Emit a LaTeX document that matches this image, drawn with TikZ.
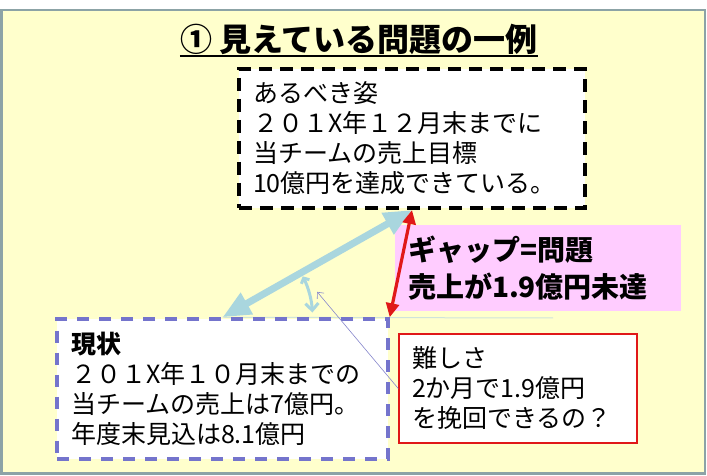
\documentclass[tikz,border=0pt]{standalone}
\usepackage{fontspec}
\setmainfont{Noto Sans CJK JP}
\usepackage{tikz}
\usetikzlibrary{arrows.meta,positioning,backgrounds,calc}

\definecolor{panelfill}{HTML}{FFFFCC}
\definecolor{panelline}{HTML}{8CA3A6}
\definecolor{nowblue}{HTML}{7474CC}
\definecolor{gapblue}{HTML}{A9D6DE}
\definecolor{gappink}{HTML}{FFCCFF}
\definecolor{hardred}{HTML}{E01818}
\definecolor{pointerblue}{HTML}{8686CC}
\definecolor{baseblue}{HTML}{CFE3DC}

\begin{document}
\begin{tikzpicture}[x=1pt,y=1pt,
  textbox/.style={fill=white, align=left, inner xsep=14pt, inner ysep=0pt,
    font=\fontsize{25}{30}\selectfont},
  gaparrow/.style={gapblue, line width=7pt, {Triangle[length=28pt,width=23pt]}-{Triangle[length=28pt,width=23pt]}},
  redarrow/.style={hardred, line width=3.2pt, {Triangle[length=14pt,width=13pt]}-{Triangle[length=14pt,width=13pt]}}]
\useasboundingbox (0,0) rectangle (707,476);
% Parameters
\def\radius{90}

% Panel
\begin{pgfonlayer}{background}
\draw[panelline, fill=panelfill, line width=2.5pt] (1.5,2.5) rectangle (705,466);
\end{pgfonlayer}

% Title
\node[inner xsep=0pt, font=\bfseries\fontsize{32}{38}\selectfont] (title) at (359,437) {① 見えている問題の一例};
\draw[line width=2.5pt] ([yshift=-5pt]title.base west) -- ([yshift=-5pt]title.base east);

% Boxes
\node[textbox, draw=black, line width=4pt, dash pattern=on 13pt off 8pt,
  minimum width=346pt, minimum height=139pt, text width=318pt] (goal) at (412,337.5)
  {あるべき姿\\２０１X年１２月末までに\\当チームの売上目標\\10億円を達成できている。};
\node[textbox, draw=nowblue, line width=3.5pt, dash pattern=on 12pt off 10pt,
  minimum width=331pt, minimum height=140pt, text width=303pt] (current) at (222.5,87)
  {\textbf{現状}\\２０１X年１０月末までの\\当チームの売上は7億円。\\年度末見込は8.1億円};
\node[textbox, draw=hardred, line width=1.5pt, inner xsep=13pt,
  minimum width=238pt, minimum height=109pt, text width=212pt] (hard) at (518,87.5)
  {難しさ\\2か月で1.9億円\\を挽回できるの？};
\node[fill=gappink, align=left, inner xsep=13pt, font=\bfseries\fontsize{28}{37}\selectfont,
  minimum width=286pt, minimum height=86pt, text width=260pt] (gap) at (538,208)
  {ギャップ=問題\\売上が1.9億円未達};

% Baseline of the angle
\coordinate (baseend) at (553,158);
\begin{pgfonlayer}{background}
\draw[baseblue, line width=1pt] (current.north) -- (baseend);
\end{pgfonlayer}

% Gap arrows
\draw[gaparrow] (goal.south) -- (current.north);
\draw[redarrow] (goal.south) -- (current.north east);

% Angle arc and pointer
\draw[gapblue, line width=3pt, {Straight Barb[length=4pt,width=9pt]}-{Straight Barb[length=7pt,width=13pt]}]
  ($(current.north)+(27:\radius)$) arc[start angle=27, end angle=3, radius=\radius];
\coordinate (arcpt) at ($(current.north)+(15:\radius+8)$);
\draw[pointerblue, line width=0.6pt, -{Straight Barb[length=5pt,width=9pt]}] (hard.west) -- (arcpt);
\end{tikzpicture}
\end{document}
